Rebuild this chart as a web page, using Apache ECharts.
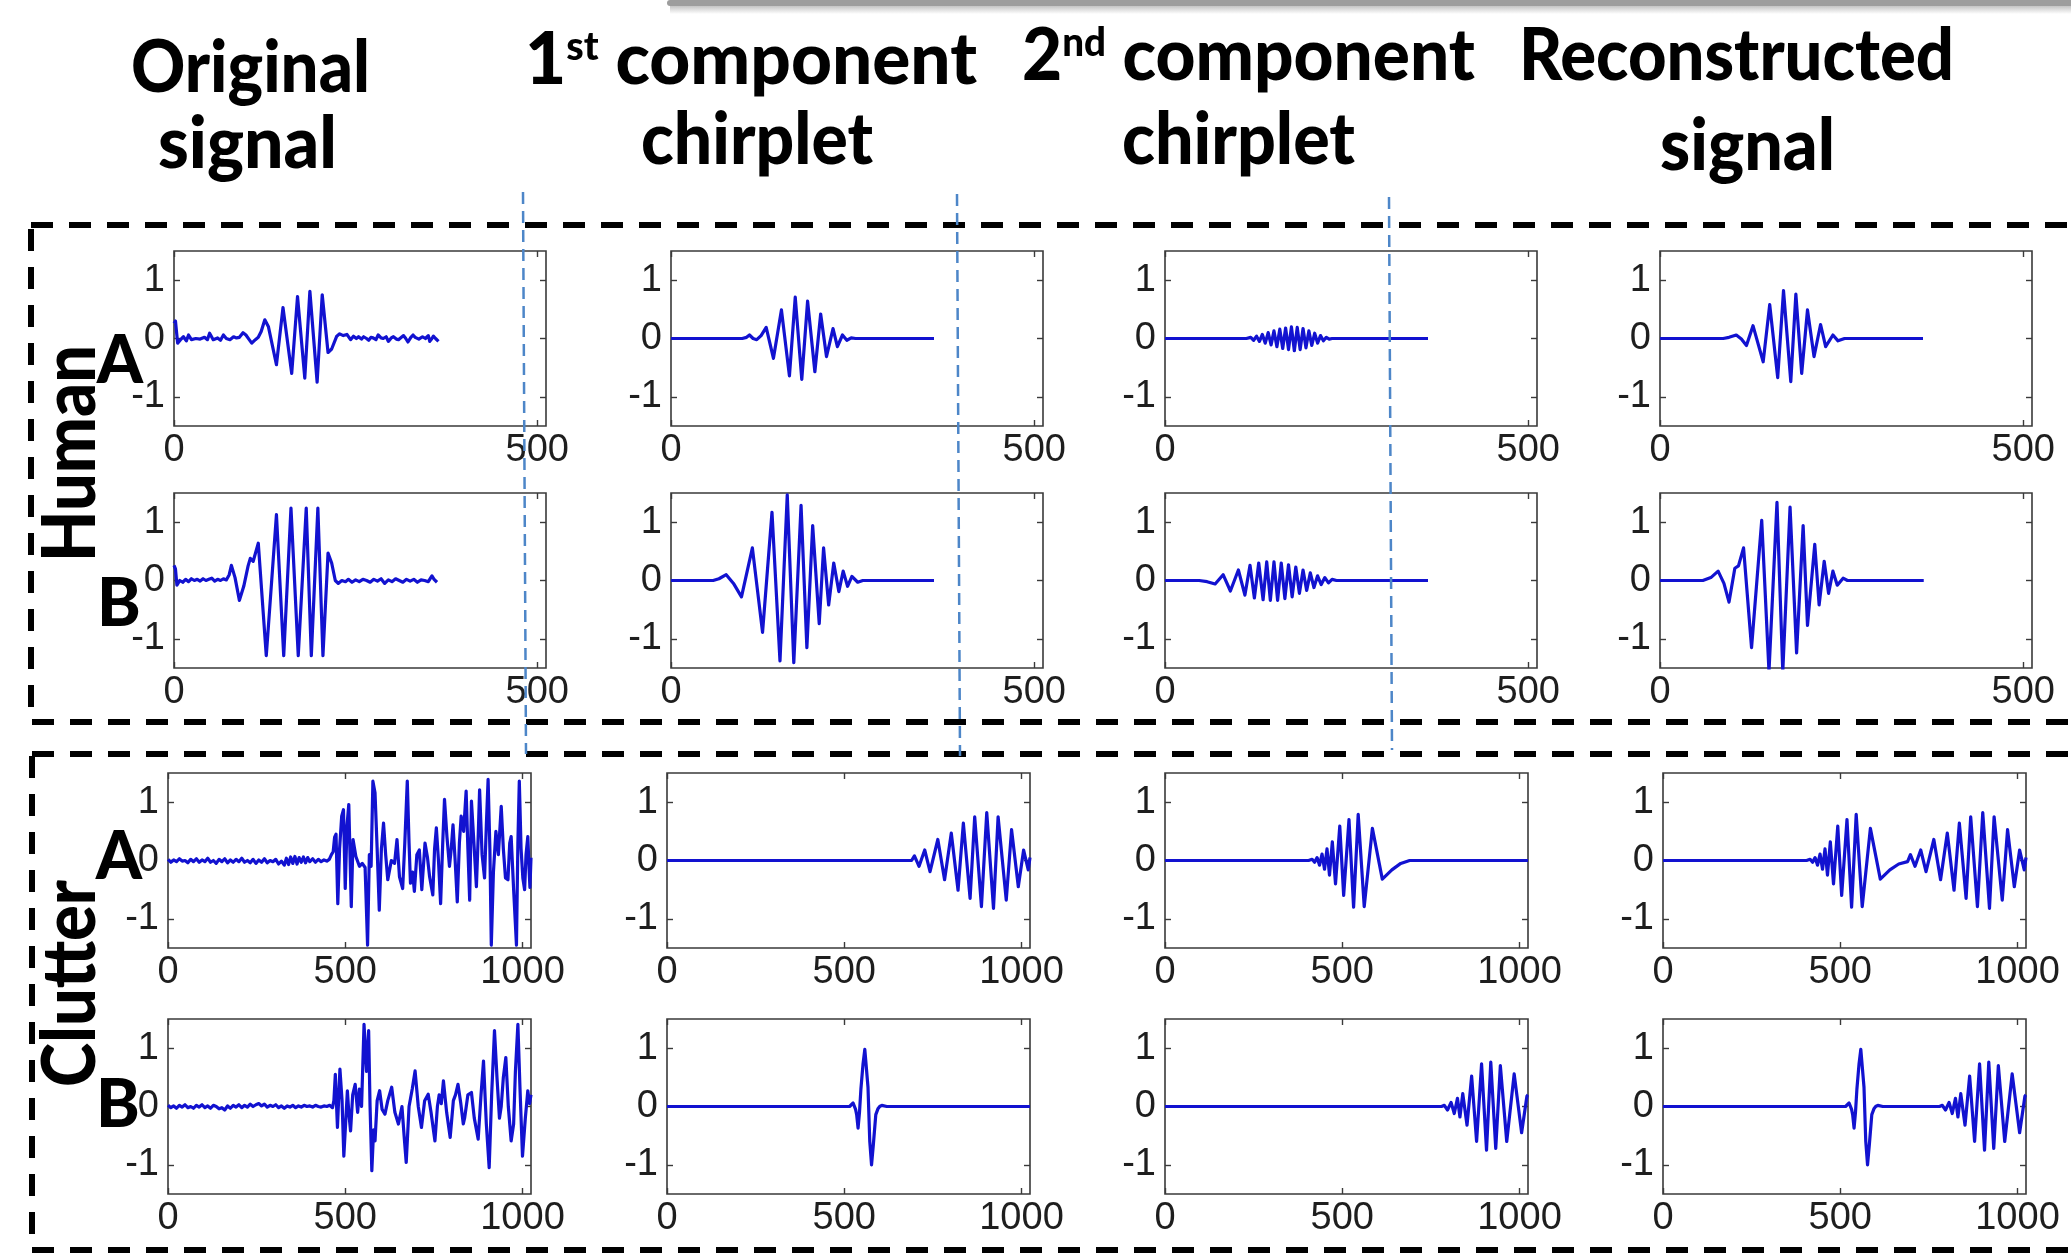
<!DOCTYPE html>
<html>
<head>
<meta charset="utf-8">
<script src="https://cdn.jsdelivr.net/npm/echarts@6/dist/echarts.min.js"></script>
<style>
html,body{margin:0;padding:0;background:#fff;}
#chart{width:2071px;height:1258px;}
</style>
</head>
<body>
<div id="chart"></div>
<script>
// axis settings
var xTicksHuman = [0, 500];
var xTicksClutter = [0, 500, 1000];
var yTicks = [-1, 0, 1];
var xMaxHuman = 512;
var xMaxClutter = 1024;

// ---- Human A ----
var humanAOriginal = [[0,0.26],[2,0.3],[5,-0.08],[9,-0.02],[13,0.03],[17,-0.04],[20,0.06],[24,-0.02],[30,0.0],[36,-0.01],[42,0.02],[46,-0.02],[49,0.09],[54,-0.02],[60,0.01],[64,-0.03],[68,0.06],[72,0.0],[77,-0.02],[82,0.03],[86,0.01],[90,0.02],[95,0.1],[99,0.06],[103,-0.01],[107,-0.08],[112,-0.02],[116,0.02],[120,0.12],[125,0.32],[130,0.2],[141,-0.45],[150,0.53],[162,-0.6],[170,0.72],[180,-0.68],[187,0.81],[197,-0.75],[204,0.75],[212,-0.24],[217,-0.18],[224,0.04],[228,0.08],[233,0.05],[238,0.07],[243,-0.02],[247,0.04],[251,0.0],[254,0.03],[258,-0.01],[261,0.03],[265,0.0],[268,-0.03],[271,0.02],[274,0.01],[278,-0.02],[281,0.06],[285,0.01],[288,0.0],[292,0.03],[295,-0.05],[299,0.01],[302,0.03],[306,-0.01],[309,-0.02],[313,0.02],[316,0.05],[319,0.0],[322,-0.06],[326,0.02],[329,0.06],[332,0.02],[334,0.04],[337,-0.01],[339,-0.04],[342,0.03],[344,0.06],[346,0.0],[348,0.02],[350,0.05],[352,-0.05],[355,0.0],[357,0.04],[360,0.0],[362,0.02],[364,-0.05]];
var humanAChirp1 = [[0,0],[98,0],[104,0.02],[108,0.06],[113,0.0],[118,-0.02],[124,0.05],[131,0.19],[141,-0.34],[152,0.49],[163,-0.64],[171,0.71],[180,-0.7],[188,0.64],[198,-0.57],[206,0.42],[214,-0.31],[223,0.17],[229,-0.14],[236,0.06],[242,-0.03],[248,0.01],[254,0],[362,0]];
var humanAChirp2 = [[0,0],[112,0],[118,0.02],[122,-0.03],[126,0.04],[130,-0.05],[134,0.07],[138,-0.08],[142,0.1],[146,-0.11],[150,0.13],[154,-0.14],[158,0.16],[162,-0.17],[166,0.18],[170,-0.19],[174,0.2],[178,-0.21],[182,0.19],[186,-0.19],[190,0.17],[194,-0.16],[198,0.13],[202,-0.12],[206,0.09],[210,-0.08],[214,0.05],[218,-0.04],[222,0.02],[226,-0.01],[230,0],[362,0]];
var humanARecon = [[0,0],[87,0],[95,0.02],[105,0.06],[112,-0.01],[119,-0.12],[128,0.22],[142,-0.4],[151,0.58],[162,-0.67],[170,0.82],[180,-0.74],[187,0.76],[195,-0.6],[203,0.49],[212,-0.31],[221,0.24],[228,-0.14],[238,0.06],[245,-0.04],[254,0],[362,0]];

// ---- Human B ----
var humanBOriginal = [[0,0.26],[2,0.2],[4,-0.08],[8,0.0],[12,-0.03],[16,0.02],[20,-0.02],[24,0.03],[28,0.0],[32,0.02],[36,-0.01],[40,0.03],[44,0.0],[48,0.02],[52,0.04],[56,-0.01],[60,0.02],[64,0.0],[68,0.03],[72,0.01],[76,0.1],[79,0.26],[84,0.05],[90,-0.34],[96,-0.1],[102,0.25],[105,0.38],[109,0.33],[116,0.64],[127,-1.29],[141,1.13],[151,-1.29],[161,1.24],[171,-1.29],[182,1.24],[189,-1.29],[198,1.24],[205,-1.29],[212,0.47],[217,0.3],[222,0.0],[226,-0.05],[231,0.0],[236,-0.02],[240,0.02],[245,-0.03],[250,0.01],[255,-0.02],[260,0.02],[265,0.0],[270,-0.03],[275,0.02],[280,-0.01],[285,0.03],[290,-0.05],[295,0.01],[300,-0.02],[305,0.03],[310,0.0],[315,-0.03],[320,0.02],[325,-0.01],[330,0.02],[335,-0.03],[340,0.01],[345,0.0],[350,-0.02],[355,0.08],[358,0.02],[362,-0.03]];
var humanBChirp1 = [[0,0],[58,0],[66,0.03],[76,0.1],[86,-0.05],[97,-0.28],[112,0.56],[126,-0.89],[139,1.17],[150,-1.38],[160,1.47],[169,-1.41],[179,1.29],[187,-1.15],[195,0.94],[204,-0.74],[210,0.56],[217,-0.42],[224,0.3],[231,-0.19],[237,0.16],[243,-0.1],[249,0.07],[257,-0.03],[264,0],[362,0]];
var humanBChirp2 = [[0,0],[47,0],[58,-0.02],[69,-0.06],[80,0.1],[90,-0.18],[101,0.18],[110,-0.25],[117,0.26],[123,-0.3],[129,0.3],[135,-0.33],[140,0.32],[145,-0.34],[150,0.32],[155,-0.34],[160,0.3],[165,-0.31],[170,0.27],[175,-0.28],[180,0.23],[185,-0.22],[190,0.18],[195,-0.17],[200,0.13],[205,-0.12],[210,0.08],[215,-0.07],[220,0.05],[225,-0.04],[230,0.02],[236,0],[362,0]];
var humanBRecon = [[0,0],[59,0],[70,0.05],[80,0.16],[88,-0.05],[95,-0.37],[103,0.21],[108,0.25],[115,0.56],[126,-1.15],[140,1.03],[150,-1.56],[161,1.34],[169,-1.56],[179,1.26],[188,-1.24],[197,0.94],[203,-0.77],[213,0.62],[219,-0.42],[226,0.33],[232,-0.22],[238,0.16],[244,-0.08],[252,0.04],[258,0],[363,0]];

// ---- Clutter A ----
var clutterAOriginal = [[0,0.02],[8,-0.03],[16,0.01],[24,-0.02],[32,0.03],[40,-0.01],[48,0.0],[56,-0.04],[64,0.02],[72,-0.02],[80,0.03],[88,-0.03],[96,0.01],[104,-0.02],[112,0.04],[120,-0.03],[128,0.0],[136,-0.05],[144,0.02],[152,-0.02],[160,0.03],[168,-0.04],[176,0.01],[184,-0.03],[192,0.02],[200,-0.02],[208,0.04],[216,-0.03],[224,0.0],[232,-0.04],[240,0.02],[248,-0.05],[256,0.01],[264,-0.03],[272,0.03],[280,-0.04],[288,0.0],[296,-0.02],[304,0.02],[312,-0.06],[320,-0.01],[328,-0.08],[334,0.04],[340,-0.07],[346,0.06],[352,-0.05],[358,0.07],[364,-0.06],[370,0.05],[376,-0.03],[382,0.06],[388,-0.04],[394,0.05],[400,-0.02],[408,0.03],[416,-0.03],[424,0.02],[432,-0.02],[440,0.01],[448,-0.01],[455,0.02],[461,0.1],[466,0.15],[470,0.4],[474,0.45],[479,-0.74],[484,0.2],[490,0.76],[495,0.87],[500,-0.48],[505,0.6],[510,0.96],[517,-0.79],[522,0.36],[530,0.07],[540,-0.1],[548,-0.05],[556,-0.12],[563,-1.45],[568,0.1],[573,-0.1],[578,1.36],[584,1.16],[590,0.2],[596,-0.85],[602,0.2],[608,0.64],[614,0.1],[620,-0.33],[630,0.0],[639,-0.05],[646,0.36],[653,-0.28],[662,-0.48],[668,0.3],[675,1.36],[680,0.3],[684,-0.39],[690,-0.2],[695,-0.53],[702,0.1],[709,0.18],[716,-0.5],[725,0.3],[732,0.05],[738,-0.28],[747,-0.59],[752,0.2],[757,0.56],[763,0.0],[769,-0.74],[775,0.3],[780,1.05],[787,0.4],[794,-0.1],[799,0.2],[804,0.61],[810,0.0],[816,-0.71],[822,0.3],[827,0.76],[834,0.5],[841,1.19],[846,0.2],[851,-0.68],[856,1.02],[863,0.3],[870,-0.45],[875,0.4],[879,1.21],[886,0.1],[893,-0.3],[898,0.6],[903,1.39],[908,0.2],[912,-1.45],[918,-0.2],[925,0.5],[932,0.1],[940,0.93],[946,0.2],[952,-0.3],[959,-0.33],[964,0.3],[968,0.41],[975,-0.5],[983,-1.45],[987,0.3],[991,1.36],[996,0.2],[1001,-0.3],[1006,-0.5],[1010,0.1],[1015,0.41],[1019,-0.2],[1021,-0.46],[1024,0.05]];
var clutterAChirp1 = [[0,0],[690,0],[698,0.08],[711,-0.1],[727,0.18],[742,-0.19],[764,0.36],[783,-0.33],[802,0.47],[821,-0.51],[836,0.64],[855,-0.65],[868,0.75],[887,-0.79],[902,0.82],[921,-0.82],[934,0.75],[957,-0.68],[972,0.53],[991,-0.45],[1006,0.18],[1019,-0.16],[1024,0.05]];
var clutterAChirp2 = [[0,0],[405,0],[415,0.02],[422,-0.03],[429,0.05],[436,-0.08],[443,0.11],[450,-0.15],[457,0.2],[464,-0.25],[472,0.32],[481,-0.4],[493,0.59],[504,-0.6],[519,0.7],[532,-0.8],[545,0.79],[562,-0.79],[585,0.55],[613,-0.32],[640,-0.16],[665,-0.05],[690,0],[1024,0]];
var clutterARecon = [[0,0],[405,0],[415,0.02],[422,-0.03],[429,0.05],[436,-0.08],[443,0.11],[450,-0.15],[457,0.2],[464,-0.25],[472,0.32],[481,-0.4],[493,0.59],[504,-0.6],[519,0.7],[532,-0.8],[545,0.79],[562,-0.79],[585,0.55],[613,-0.32],[640,-0.16],[665,-0.06],[690,-0.02],[698,0.1],[711,-0.1],[727,0.18],[742,-0.19],[764,0.36],[783,-0.33],[802,0.47],[821,-0.51],[836,0.64],[855,-0.65],[868,0.75],[887,-0.79],[902,0.82],[921,-0.82],[934,0.75],[957,-0.68],[972,0.53],[991,-0.45],[1006,0.18],[1019,-0.16],[1024,0.05]];

// ---- Clutter B ----
var clutterBOriginal = [[0,0.02],[8,-0.02],[16,0.01],[24,-0.03],[32,0.02],[40,-0.01],[48,0.03],[56,-0.02],[64,0.0],[72,-0.03],[80,0.02],[88,-0.01],[96,0.03],[104,-0.02],[112,0.01],[120,-0.03],[128,0.02],[136,0.0],[144,-0.04],[152,-0.02],[160,-0.06],[168,0.01],[176,-0.03],[184,0.02],[192,-0.01],[200,0.03],[208,-0.02],[216,0.02],[224,-0.01],[232,0.04],[240,0.0],[248,0.03],[256,0.05],[264,0.01],[272,0.04],[280,-0.01],[288,0.02],[296,0.0],[304,0.03],[312,-0.02],[320,0.01],[328,-0.03],[336,0.01],[344,-0.01],[352,0.02],[360,-0.02],[368,0.01],[376,-0.01],[384,0.02],[392,0.0],[400,0.01],[408,-0.01],[416,0.02],[424,0.0],[432,-0.01],[440,0.01],[448,0.0],[456,0.02],[464,-0.02],[468,0.1],[472,0.55],[478,-0.36],[485,0.64],[491,0.1],[496,-0.85],[501,-0.3],[506,0.27],[510,-0.1],[515,-0.42],[521,0.2],[528,0.38],[535,-0.1],[540,0.3],[546,0.0],[553,1.41],[560,0.6],[566,1.3],[570,0.0],[575,-1.1],[580,-0.4],[584,-0.59],[590,0.1],[597,0.27],[604,-0.05],[612,-0.13],[620,0.1],[631,0.33],[640,-0.1],[650,-0.3],[660,0.0],[666,-0.5],[672,-0.96],[680,0.0],[689,0.3],[697,0.61],[706,0.0],[715,-0.36],[724,0.1],[734,0.21],[742,-0.1],[753,-0.59],[760,0.0],[765,0.2],[771,0.05],[777,0.44],[786,-0.1],[796,-0.53],[805,0.1],[811,0.2],[818,0.38],[826,0.05],[833,-0.3],[837,-0.19],[846,0.2],[856,0.24],[864,-0.2],[875,-0.56],[883,0.2],[890,0.78],[898,-0.3],[906,-1.05],[913,0.2],[921,1.3],[928,0.5],[935,-0.2],[940,0.0],[946,0.5],[953,0.84],[960,0.0],[968,-0.59],[975,-0.3],[980,0.6],[987,1.41],[993,0.3],[1000,-0.85],[1008,-0.2],[1015,0.27],[1020,0.05],[1024,0.2]];
var clutterBChirp1 = [[0,0],[515,0],[525,0.06],[532,-0.05],[535,-0.14],[539,-0.37],[543,-0.1],[547,0.3],[553,0.73],[558,0.98],[563,0.97],[567,0.33],[572,-0.6],[577,-1.0],[582,-0.66],[589,-0.14],[595,-0.04],[600,0.0],[606,0.02],[620,0],[1024,0]];
var clutterBChirp2 = [[0,0],[780,0],[788,0.02],[797,-0.06],[807,0.07],[816,-0.12],[825,0.14],[832,-0.18],[840,0.22],[852,-0.32],[865,0.52],[879,-0.6],[893,0.73],[907,-0.75],[919,0.76],[933,-0.72],[946,0.7],[964,-0.6],[985,0.56],[1006,-0.45],[1021,0.18],[1024,0.2]];
var clutterBRecon = [[0,0],[515,0],[525,0.06],[532,-0.05],[535,-0.14],[539,-0.37],[543,-0.1],[547,0.3],[553,0.73],[558,0.98],[563,0.97],[567,0.33],[572,-0.6],[577,-1.0],[582,-0.66],[589,-0.14],[595,-0.04],[600,0.0],[606,0.02],[620,0],[780,0],[788,0.02],[797,-0.06],[807,0.07],[816,-0.12],[825,0.14],[832,-0.18],[840,0.22],[852,-0.32],[865,0.52],[879,-0.6],[893,0.73],[907,-0.75],[919,0.76],[933,-0.72],[946,0.7],[964,-0.6],[985,0.56],[1006,-0.45],[1021,0.18],[1024,0.2]];

var rows = [
    [humanAOriginal, humanAChirp1, humanAChirp2, humanARecon],
    [humanBOriginal, humanBChirp1, humanBChirp2, humanBRecon],
    [clutterAOriginal, clutterAChirp1, clutterAChirp2, clutterARecon],
    [clutterBOriginal, clutterBChirp1, clutterBChirp2, clutterBRecon]
];

// layout (px)
var rowTops = [251, 493, 773, 1019];
var panelH = 175;
var humanLefts = [174, 671, 1165, 1660];
var clutterLefts = [168, 667, 1165, 1663];

var lineColor = '#1212d0';
var frameColor = '#3a3a3a';
var tickFont = 'Liberation Sans';

var grids = [], xAxes = [], yAxes = [], series = [];
function plain(v) { return String(v); }
rows.forEach(function (row, r) {
    var human = r < 2;
    row.forEach(function (data, c) {
        var i = grids.length;
        var xt = human ? xTicksHuman : xTicksClutter;
        var xmax = human ? xMaxHuman : xMaxClutter;
        grids.push({
            left: human ? humanLefts[c] : clutterLefts[c],
            top: rowTops[r],
            width: human ? 372 : 363,
            height: panelH,
            show: true,
            backgroundColor: '#fff',
            borderColor: frameColor,
            borderWidth: 1.6,
            outerBoundsMode: 'none'
        });
        ['bottom', 'top'].forEach(function (pos) {
            xAxes.push({
                gridIndex: i, type: 'value', min: 0, max: xmax, position: pos,
                axisLine: {show: false, onZero: false}, splitLine: {show: false},
                axisTick: {inside: true, length: 6, customValues: xt, lineStyle: {color: frameColor, width: 1.4}},
                axisLabel: {show: pos === 'bottom', customValues: xt, formatter: plain, margin: 6, fontSize: 38, fontFamily: tickFont, color: '#1e1e1e'}
            });
        });
        ['left', 'right'].forEach(function (pos) {
            yAxes.push({
                gridIndex: i, type: 'value', min: -1.5, max: 1.5, position: pos,
                axisLine: {show: false, onZero: false}, splitLine: {show: false},
                axisTick: {inside: true, length: 6, customValues: yTicks, lineStyle: {color: frameColor, width: 1.4}},
                axisLabel: {show: pos === 'left', customValues: yTicks, formatter: plain, margin: 9, fontSize: 38, fontFamily: tickFont, color: '#1e1e1e'}
            });
        });
        series.push({
            type: 'line', xAxisIndex: 2 * i, yAxisIndex: 2 * i,
            data: data, showSymbol: false, symbol: 'none', clip: true,
            lineStyle: {color: lineColor, width: 3.2, join: 'round'}
        });
    });
});

// text helpers: stretch text to the width it has in the picture
var mctx = document.createElement('canvas').getContext('2d');
var W = 900;
function textW(str, size) {
    mctx.font = W + ' ' + size + 'px Lato';
    return mctx.measureText(str).width;
}
function textEl(str, size, x, y, sx, extra) {
    var el = {
        type: 'text', x: x, y: y, scaleX: sx, z: 50,
        style: {text: str, fontSize: size, fontWeight: W, fontFamily: 'Lato', fill: '#000', align: 'left', verticalAlign: 'middle'}
    };
    if (extra) for (var k in extra) el[k] = extra[k];
    return el;
}
// parts: [text, size, raise]
function titleLine(parts, left, right, base) {
    var total = 0;
    parts.forEach(function (p) { total += textW(p[0], p[1]); });
    var s = (right - left) / total, x = left, out = [];
    parts.forEach(function (p) {
        out.push(textEl(p[0], p[1], x, base - 0.3225 * p[1] - (p[2] || 0), s));
        x += textW(p[0], p[1]) * s;
    });
    return out;
}

var graphics = [];
// grey bar at top
graphics.push({type: 'rect', shape: {x: 667, y: 0, width: 1420, height: 6, r: 3}, style: {fill: '#9d9d9d'}, z: 1});
graphics.push({type: 'rect', shape: {x: 670, y: 6, width: 1420, height: 8},
    style: {fill: new echarts.graphic.LinearGradient(0, 0, 0, 1, [{offset: 0, color: '#c4c4c4'}, {offset: 1, color: '#ffffff'}])}, z: 1});

var T = 72;
graphics = graphics.concat(
    titleLine([['Original', T]], 131, 370, 92),
    titleLine([['signal', T]], 158, 337, 168),
    titleLine([['1', T], ['st', 40, 24], [' component', T]], 525, 977, 84),
    titleLine([['chirplet', T]], 641, 873, 164),
    titleLine([['2', T], ['nd', 40, 24], [' component', T]], 1022, 1475, 80),
    titleLine([['chirplet', T]], 1122, 1355, 164),
    titleLine([['Reconstructed', T]], 1519, 1954, 80),
    titleLine([['signal', T]], 1660, 1835, 170)
);

// side labels (rotated, reading upward)
var S = 74;
graphics.push(textEl('Human', S, 71, 562, 217 / textW('Human', S), {rotation: Math.PI / 2}));
graphics.push(textEl('Clutter', S, 71, 1087, 207 / textW('Clutter', S), {rotation: Math.PI / 2}));

// row letters
[['A', 120, 362], ['B', 119, 605], ['A', 119, 858], ['B', 118, 1106]].forEach(function (a) {
    var el = textEl(a[0], 66, a[1], a[2], 1);
    el.style.align = 'center';
    graphics.push(el);
});

// dashed group boxes
graphics.push({type: 'rect', shape: {x: 31, y: 225, width: 2100, height: 497},
    style: {fill: 'none', stroke: '#000', lineWidth: 6, lineDash: [22, 16]}, z: 2});
graphics.push({type: 'rect', shape: {x: 32, y: 754, width: 2100, height: 496},
    style: {fill: 'none', stroke: '#000', lineWidth: 6, lineDash: [22, 16]}, z: 2});

// blue dashed separators
[[523, 192, 526, 754], [957, 194, 960, 756], [1389, 197, 1392, 750]].forEach(function (l) {
    graphics.push({type: 'line', shape: {x1: l[0], y1: l[1], x2: l[2], y2: l[3]},
        style: {stroke: '#4d86c8', lineWidth: 2.5, lineDash: [12, 7]}, z: 100});
});

var option = {
    animation: false,
    backgroundColor: '#fff',
    grid: grids,
    xAxis: xAxes,
    yAxis: yAxes,
    series: series,
    graphic: {elements: graphics}
};
echarts.init(document.getElementById('chart')).setOption(option);
</script>
</body>
</html>
